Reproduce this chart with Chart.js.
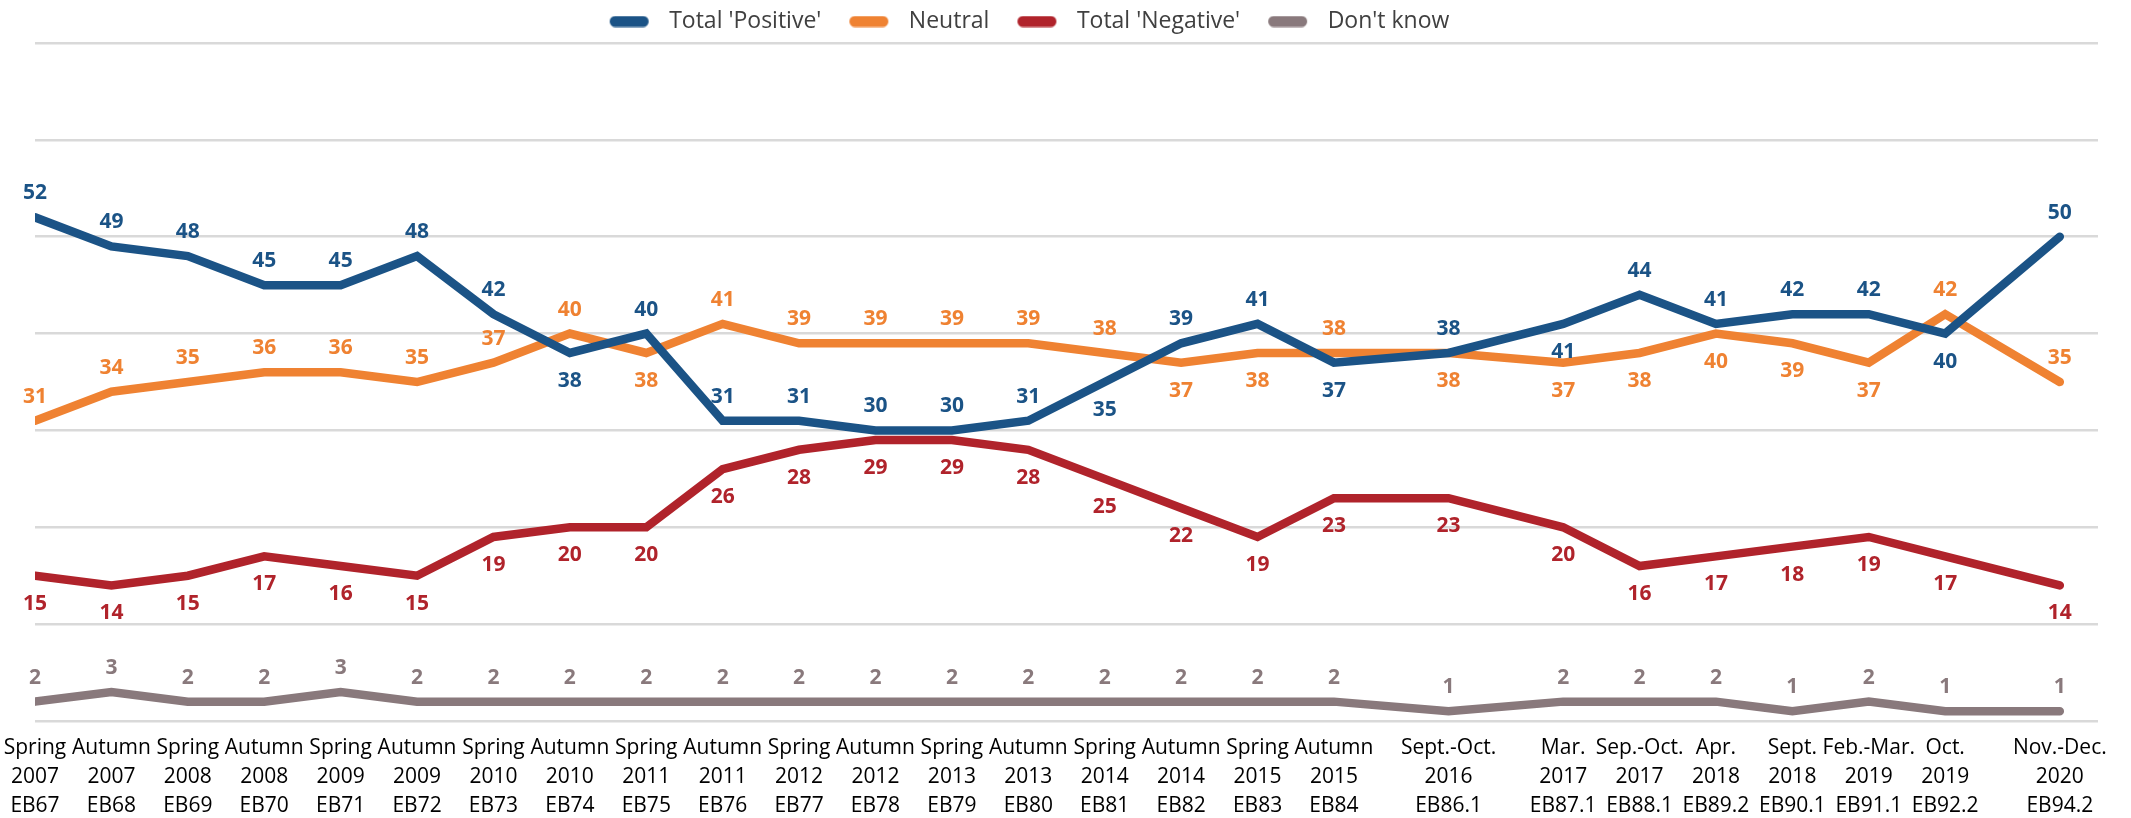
<!DOCTYPE html>
<html>
<head>
<meta charset="utf-8">
<script src="https://cdn.jsdelivr.net/npm/chart.js@4.4.1/dist/chart.umd.min.js"></script>
<style>
  html, body { margin: 0; padding: 0; background: #fff; }
  #wrap { width: 2131px; height: 818px; }
</style>
</head>
<body>
<div id="wrap"><canvas id="trendChart"></canvas></div>
<script>
// survey waves (x position keeps the uneven spacing between waves)
const periods = [0, 1, 2, 3, 4, 5, 6, 7, 8, 9, 10, 11, 12, 13, 14, 15, 16, 17, 18.5, 20, 21, 22, 23, 24, 25, 26.5];
const seasons = ["Spring", "Autumn", "Spring", "Autumn", "Spring", "Autumn", "Spring", "Autumn", "Spring", "Autumn",
  "Spring", "Autumn", "Spring", "Autumn", "Spring", "Autumn", "Spring", "Autumn", "Sept.-Oct.", "Mar.", "Sep.-Oct.",
  "Apr.", "Sept.", "Feb.-Mar.", "Oct.", "Nov.-Dec."];
const years = ["2007", "2007", "2008", "2008", "2009", "2009", "2010", "2010", "2011", "2011", "2012", "2012", "2013",
  "2013", "2014", "2014", "2015", "2015", "2016", "2017", "2017", "2018", "2018", "2019", "2019", "2020"];
const waves = ["EB67", "EB68", "EB69", "EB70", "EB71", "EB72", "EB73", "EB74", "EB75", "EB76", "EB77", "EB78", "EB79",
  "EB80", "EB81", "EB82", "EB83", "EB84", "EB86.1", "EB87.1", "EB88.1", "EB89.2", "EB90.1", "EB91.1", "EB92.2", "EB94.2"];

const positive = [52, 49, 48, 45, 45, 48, 42, 38, 40, 31, 31, 30, 30, 31, 35, 39, 41, 37, 38, 41, 44, 41, 42, 42, 40, 50];
const neutral = [31, 34, 35, 36, 36, 35, 37, 40, 38, 41, 39, 39, 39, 39, 38, 37, 38, 38, 38, 37, 38, 40, 39, 37, 42, 35];
const negative = [15, 14, 15, 17, 16, 15, 19, 20, 20, 26, 28, 29, 29, 28, 25, 22, 19, 23, 23, 20, 16, 17, 18, 19, 17, 14];
const dontKnow = [2, 3, 2, 2, 3, 2, 2, 2, 2, 2, 2, 2, 2, 2, 2, 2, 2, 2, 1, 2, 2, 2, 1, 2, 1, 1];

// where each value label sits: a = above the line, b = below
const labelSide = {
  0: "aaaaaaabaaaaaabaababaaaaba",
  1: "aaaaaaaabaaaaaabbabbbbbbaa",
  2: "bbbbbbbbbbbbbbbbbbbbbbbbbb",
  3: "aaaaaaaaaaaaaaaaaaaaaaaaaa"
};

const FONT = "'Open Sans', 'Noto Sans', sans-serif";

function toXY(values) {
  return values.map((v, i) => ({ x: periods[i], y: v }));
}

// rounded legend swatch, with some room left on its left and right
function swatch(color) {
  const c = document.createElement("canvas");
  c.width = 66;
  c.height = 12;
  const g = c.getContext("2d");
  g.strokeStyle = color;
  g.lineWidth = 11;
  g.lineCap = "round";
  g.beginPath();
  g.moveTo(18 + 5.5, 6);
  g.lineTo(18 + 39 - 5.5, 6);
  g.stroke();
  return c;
}

const valueLabels = {
  id: "valueLabels",
  afterDatasetsDraw(chart) {
    const ctx = chart.ctx;
    ctx.save();
    ctx.font = "bold 21px " + FONT;
    ctx.textAlign = "center";
    ctx.textBaseline = "middle";
    chart.data.datasets.forEach((ds, di) => {
      const meta = chart.getDatasetMeta(di);
      ctx.fillStyle = ds.borderColor;
      meta.data.forEach((pt, i) => {
        const dy = labelSide[di][i] === "a" ? -24 : 28;
        ctx.fillText(String(ds.data[i].y), pt.x, pt.y + dy);
      });
    });
    ctx.restore();
  }
};

// the legend row sits a little left of centre in the original
const legendShift = {
  id: "legendShift",
  afterUpdate(chart) {
    const lg = chart.legend;
    if (lg && lg.lineWidths && lg.lineWidths.length) lg.lineWidths[0] += 92;
  }
};

function line(label, values, color) {
  return {
    label: label,
    data: toXY(values),
    borderColor: color,
    backgroundColor: color,
    borderWidth: 8.5,
    pointRadius: 0,
    tension: 0,
    borderCapStyle: "round",
    borderJoinStyle: "miter"
  };
}

const ctx = document.getElementById("trendChart").getContext("2d");
new Chart(ctx, {
  type: "line",
  data: {
    datasets: [
      line("Total 'Positive'", positive, "#1b5386"),
      line("Neutral", neutral, "#ef8232"),
      line("Total 'Negative'", negative, "#b0232b"),
      line("Don't know", dontKnow, "#89797c")
    ]
  },
  options: {
    responsive: true,
    maintainAspectRatio: false,
    animation: false,
    layout: { padding: { left: 35, right: 33, top: 0, bottom: 0 } },
    plugins: {
      tooltip: { enabled: false },
      legend: {
        position: "top",
        labels: {
          font: { family: FONT, size: 23 },
          color: "#404040",
          usePointStyle: true,
          pointStyleWidth: 66,
          boxHeight: 12,
          padding: 10,
          generateLabels(chart) {
            return Chart.defaults.plugins.legend.labels.generateLabels(chart).map(item => {
              item.pointStyle = swatch(chart.data.datasets[item.datasetIndex].borderColor);
              item.lineWidth = 0;
              return item;
            });
          }
        }
      }
    },
    scales: {
      x: {
        type: "linear",
        min: 0,
        max: 27,
        afterBuildTicks(axis) {
          axis.ticks = periods.map(v => ({ value: v }));
        },
        afterFit(scale) {
          scale.height = 97;
          scale.paddingLeft = 0;
          scale.paddingRight = 0;
        },
        grid: { display: false, drawTicks: false },
        border: { display: false },
        ticks: {
          autoSkip: false,
          maxRotation: 0,
          color: "#000",
          padding: 12,
          font: { family: FONT, size: 21, lineHeight: 1.4 },
          callback: (value, index) => [seasons[index], years[index], waves[index]]
        }
      },
      y: {
        min: 0,
        max: 70,
        afterFit(scale) {
          scale.width = 0;
        },
        grid: { color: "#d9d9d9", lineWidth: 2.5, drawTicks: false },
        border: { display: false },
        ticks: { display: false, stepSize: 10 }
      }
    }
  },
  plugins: [valueLabels, legendShift]
});
</script>
</body>
</html>
